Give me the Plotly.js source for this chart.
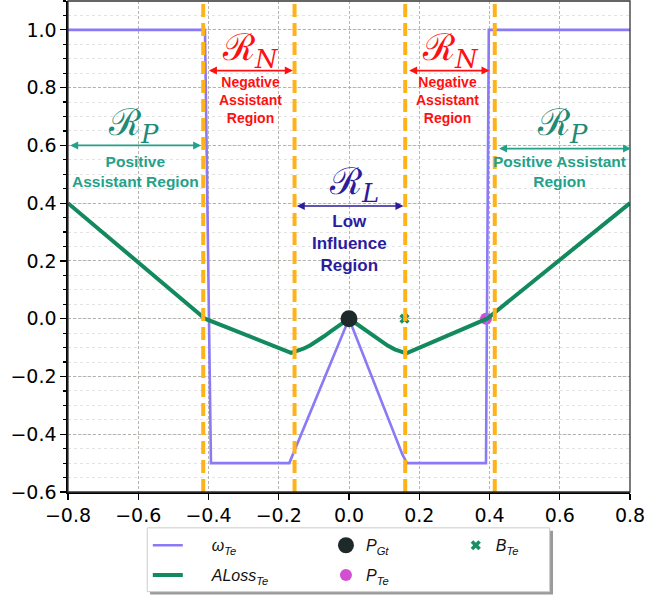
<!DOCTYPE html>
<html>
<head>
<meta charset="utf-8">
<script src="https://cdn.plot.ly/plotly-3.0.1.min.js"></script>
<style>html,body{margin:0;padding:0;background:#fff}#chart{width:646px;height:600px}</style>
</head>
<body>
<div id="chart"></div>
<script>
// ---- data ----
var omegaX = [-0.8, -0.41, -0.393, -0.17, 0, 0.152, 0.165, 0.39, 0.398, 0.8];
var omegaY = [1, 1, -0.5, -0.5, 0, -0.47, -0.5, -0.5, 1, 1];
var lossX = [-0.8, -0.41, -0.165, -0.15, -0.13, -0.11, -0.09, -0.07, -0.05, -0.03, -0.01, 0,
             0.01, 0.03, 0.05, 0.07, 0.09, 0.11, 0.13, 0.15, 0.163, 0.393, 0.8];
var lossY = [0.4, 0, -0.118, -0.113, -0.104, -0.092, -0.077, -0.06, -0.042, -0.025, -0.008, 0,
             -0.008, -0.025, -0.043, -0.061, -0.078, -0.093, -0.106, -0.115, -0.12, 0, 0.4];
var pGtX = [0], pGtY = [0];
var pTeX = [0.39], pTeY = [0];
var bTeX = [0.158], bTeY = [0];
var regionBounds = [-0.415, -0.155, 0.16, 0.415];
var xTicks = [-0.8, -0.6, -0.4, -0.2, 0, 0.2, 0.4, 0.6, 0.8];
var yTicks = [-0.6, -0.4, -0.2, 0, 0.2, 0.4, 0.6, 0.8, 1.0];

var legFont = {family: 'Liberation Sans, Arial, sans-serif', size: 16, color: '#111'};
var pad = '\u2003\u2002';

var traces = [
  {x: pTeX, y: pTeY, mode: 'markers', name: '<i>P</i><sub><i>Te</i></sub>',
   marker: {color: '#d14fd0', size: 12}, legend: 'legend2', legendrank: 2, legendgroup: 'd'},
  {x: omegaX, y: omegaY, mode: 'lines', name: pad + '<i>ω</i><sub><i>Te</i></sub>',
   line: {color: '#8a7af5', width: 2.6}, legend: 'legend', legendrank: 1, legendgroup: 'a'},
  {x: lossX, y: lossY, mode: 'lines', name: pad + '<i>ALoss</i><sub><i>Te</i></sub>',
   line: {color: '#138a5e', width: 4}, legend: 'legend', legendrank: 2, legendgroup: 'b'},
  {x: pGtX, y: pGtY, mode: 'markers', name: '<i>P</i><sub><i>Gt</i></sub>',
   marker: {color: '#1e2a2a', size: 17}, legend: 'legend2', legendrank: 1, legendgroup: 'c'},
  {x: bTeX, y: bTeY, mode: 'markers', name: '<i>B</i><sub><i>Te</i></sub>',
   marker: {color: '#1a8f63', size: 9, symbol: 'x'}, legend: 'legend3', legendgroup: 'e'}
];

var shapes = regionBounds.map(function (b) {
  return {type: 'line', xref: 'x', yref: 'paper', x0: b, x1: b, y0: 0, y1: 1,
          line: {color: '#ffb31a', width: 4, dash: '13px,6px'}, layer: 'above'};
});
// frame (top/right)
shapes.push({type: 'rect', xref: 'paper', yref: 'paper', x0: 0, x1: 1, y0: 0, y1: 1,
             line: {color: '#333', width: 1.3}, layer: 'above'});
// legend box + shadow
shapes.push({type: 'rect', xref: 'paper', yref: 'paper', x0: 0.146, x1: 0.863, y0: -0.079, y1: -0.209,
             line: {width: 0}, fillcolor: '#9a9a9a', layer: 'below'});
shapes.push({type: 'rect', xref: 'paper', yref: 'paper', x0: 0.141, x1: 0.857, y0: -0.073, y1: -0.203,
             line: {color: '#cccccc', width: 1}, fillcolor: '#ffffff', layer: 'below'});

var scriptFont = function (c) { return {family: 'DejaVu Serif, serif', size: 37, color: c}; };
var boldFont = function (c, s) { return {family: 'Liberation Sans, Arial, sans-serif', size: s, color: c, weight: 'bold'}; };
function arrow(x0, x1, y, c) {
  return {x: x1, y: y, ax: x0, ay: y, xref: 'x', yref: 'y', axref: 'x', ayref: 'y', text: '',
          showarrow: true, arrowside: 'end+start', arrowhead: 2, arrowsize: 1, arrowwidth: 1.6,
          arrowcolor: c, standoff: 0, startstandoff: 0};
}
function label(x, y, t, f) {
  return {x: x, y: y, xref: 'x', yref: 'y', text: t, showarrow: false, font: f, align: 'center'};
}
var red = '#ff1010', teal = '#23a189', tealDark = '#1f8a76', blue = '#2b1b9e';
var annotations = [
  arrow(-0.403, -0.160, 0.859, red),
  label(-0.281, 0.93, 'ℛ<sub><i>N</i></sub>', scriptFont(red)),
  label(-0.281, 0.757, 'Negative<br>Assistant<br>Region', boldFont(red, 14)),
  arrow(0.167, 0.400, 0.859, red),
  label(0.29, 0.93, 'ℛ<sub><i>N</i></sub>', scriptFont(red)),
  label(0.279, 0.757, 'Negative<br>Assistant<br>Region', boldFont(red, 14)),
  arrow(-0.798, -0.421, 0.6, teal),
  label(-0.614, 0.67, 'ℛ<sub><i>P</i></sub>', scriptFont(tealDark)),
  label(-0.608, 0.508, 'Positive<br>Assistant Region', boldFont(teal, 15.5)),
  arrow(0.423, 0.803, 0.589, teal),
  label(0.609, 0.67, 'ℛ<sub><i>P</i></sub>', scriptFont(tealDark)),
  label(0.598, 0.508, 'Positive Assistant<br>Region', boldFont(teal, 15.5)),
  arrow(-0.153, 0.155, 0.39, blue),
  label(0.015, 0.465, 'ℛ<sub><i>L</i></sub>', scriptFont(blue)),
  label(0.0, 0.262, 'Low<br>Influence<br>Region', boldFont(blue, 17))
];

var legBase = {bgcolor: 'rgba(0,0,0,0)', borderwidth: 0, font: legFont, orientation: 'v',
               yanchor: 'top', xanchor: 'left', y: -0.074, tracegroupgap: 6, itemwidth: 30};
var layout = {
  width: 646, height: 600,
  margin: {l: 68, r: 16, t: 1, b: 108},
  paper_bgcolor: '#fff', plot_bgcolor: '#fff',
  showlegend: true,
  legend: Object.assign({}, legBase, {x: 0.142}),
  legend2: Object.assign({}, legBase, {x: 0.459}),
  legend3: Object.assign({}, legBase, {x: 0.690}),
  xaxis: {range: [-0.8, 0.8], tickvals: xTicks, ticktext: xTicks.map(function(v){return v.toFixed(1).replace('-', '\u2212');}),
          ticks: 'outside', ticklen: 6, tickwidth: 1.2, tickcolor: '#000',
          showline: true, linecolor: '#000', linewidth: 1.6, zeroline: false,
          showgrid: true, gridcolor: '#a8a29c', griddash: '3px,2px', gridwidth: 0.8,
          tickfont: {family: 'DejaVu Sans, sans-serif', size: 19, color: '#000'}},
  yaxis: {range: [-0.6, 1.1], tickvals: yTicks, ticktext: yTicks.map(function(v){return v.toFixed(1).replace('-', '\u2212');}),
          ticks: 'outside', ticklen: 6, tickwidth: 1.2, tickcolor: '#000',
          showline: true, linecolor: '#000', linewidth: 1.6, zeroline: false,
          showgrid: true, gridcolor: '#a8a29c', griddash: '3px,2px', gridwidth: 0.8,
          tickfont: {family: 'DejaVu Sans, sans-serif', size: 19, color: '#000'},
          minor: {dtick: 0.05, ticks: 'outside', ticklen: 3.5, tickcolor: '#000', showgrid: true,
                  gridcolor: '#dcdcdc', griddash: 'dot', gridwidth: 0.8}},
  shapes: shapes,
  annotations: annotations
};

Plotly.newPlot('chart', traces, layout, {displayModeBar: false, staticPlot: true});
</script>
</body>
</html>
